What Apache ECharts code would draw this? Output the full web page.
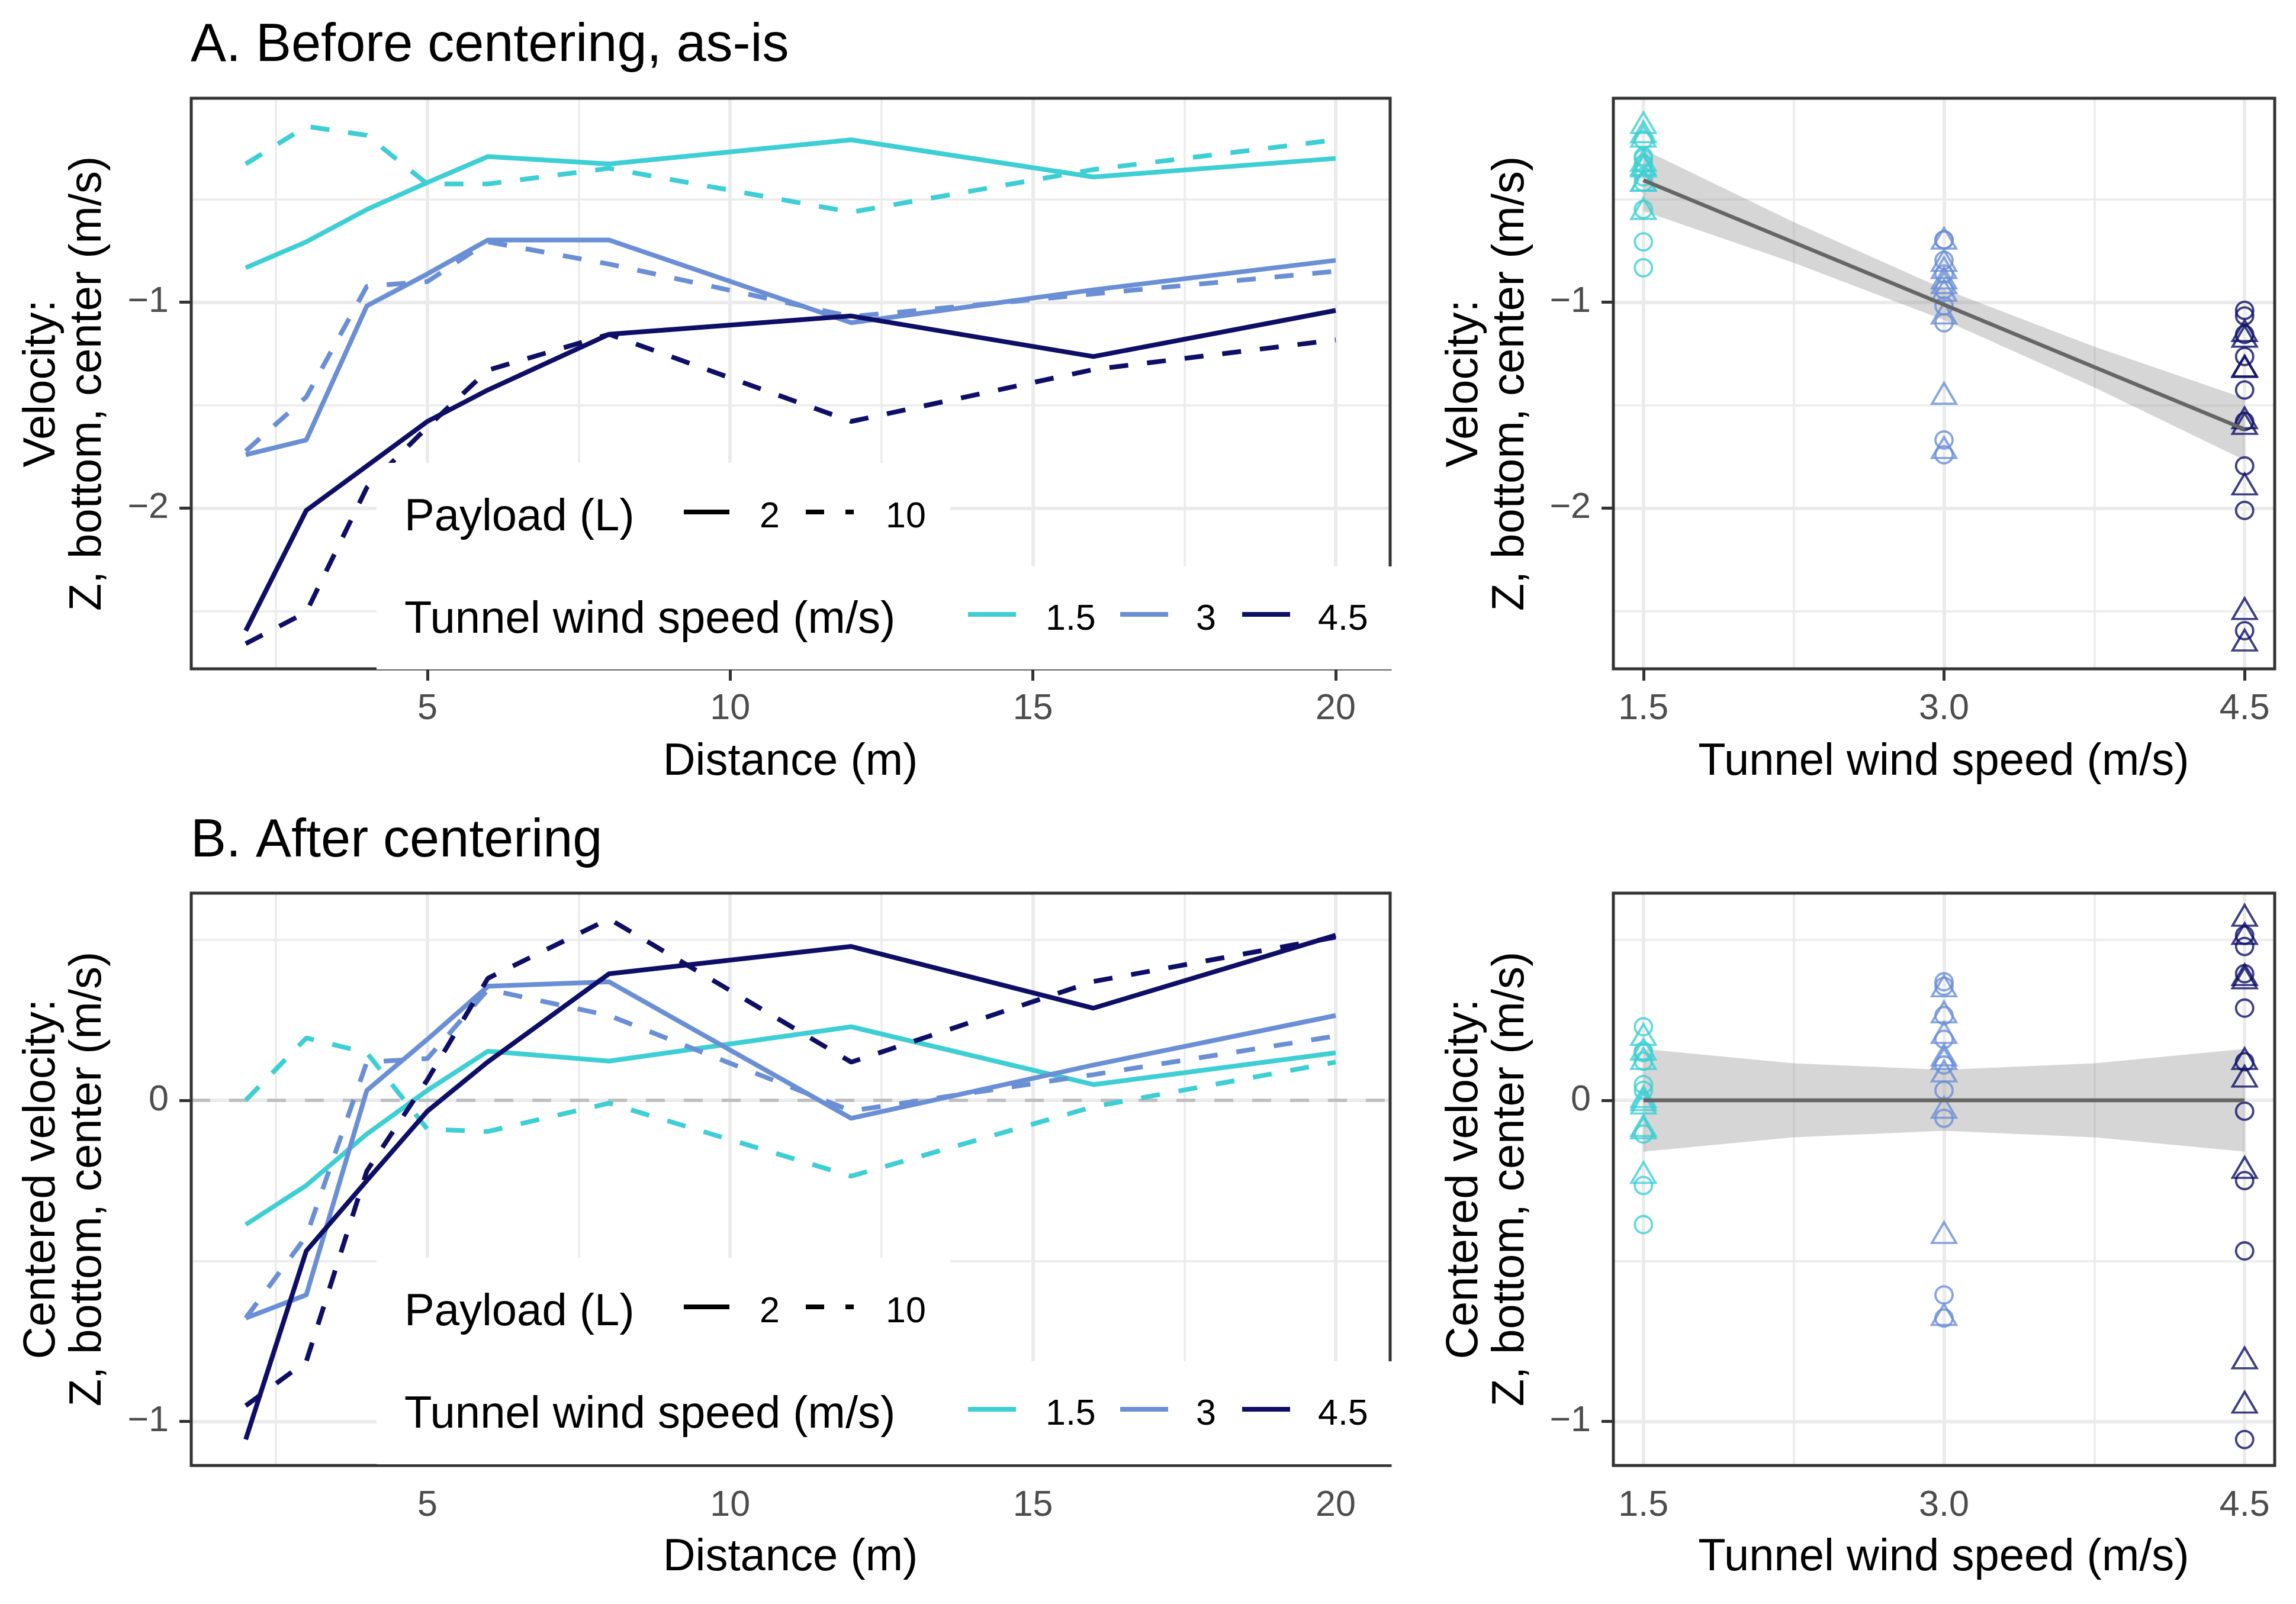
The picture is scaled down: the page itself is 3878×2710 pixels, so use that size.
<!DOCTYPE html>
<html>
<head>
<meta charset="utf-8">
<title>Velocity before and after centering</title>
<script src="https://cdn.jsdelivr.net/npm/echarts@6/dist/echarts.min.js"></script>
<style>
html, body { margin: 0; padding: 0; background: #fff; }
#chart { width: 3878px; height: 2710px; }
</style>
</head>
<body>
<div id="chart"></div>
<script>
// distances (m) along the tunnel
var distance = [2, 3, 4, 5, 6, 8, 12, 16, 20];
var windSpeeds = [1.5, 3, 4.5];
var windLabels = ['1.5', '3', '4.5'];
var payloadLabels = ['2', '10'];

// A. velocity as-is (m/s), per wind speed / payload
var rawW15P2 = [-0.833, -0.707, -0.550, -0.419, -0.293, -0.329, -0.212, -0.392, -0.302];
var rawW15P10 = [-0.329, -0.146, -0.190, -0.426, -0.426, -0.350, -0.563, -0.356, -0.212];
var rawW3P2 = [-1.741, -1.669, -1.018, -0.863, -0.698, -0.698, -1.100, -0.940, -0.797];
var rawW3P10 = [-1.723, -1.460, -0.923, -0.900, -0.707, -0.815, -1.070, -0.960, -0.850];
var rawW45P2 = [-2.595, -2.011, -1.795, -1.579, -1.426, -1.156, -1.067, -1.264, -1.040];
var rawW45P10 = [-2.658, -2.505, -1.900, -1.606, -1.330, -1.156, -1.579, -1.327, -1.183];

// B. centered velocity (m/s)
var cenW15P2 = [-0.387, -0.265, -0.105, 0.031, 0.153, 0.122, 0.229, 0.049, 0.148];
var cenW15P10 = [0.000, 0.194, 0.148, -0.090, -0.097, -0.009, -0.236, -0.020, 0.119];
var cenW3P2 = [-0.678, -0.606, 0.031, 0.190, 0.355, 0.369, -0.056, 0.110, 0.264];
var cenW3P10 = [-0.678, -0.423, 0.119, 0.130, 0.345, 0.264, -0.033, 0.080, 0.200];
var cenW45P2 = [-1.056, -0.469, -0.250, -0.034, 0.120, 0.394, 0.479, 0.287, 0.514];
var cenW45P10 = [-0.951, -0.813, -0.220, 0.064, 0.380, 0.565, 0.119, 0.370, 0.508];

// linear fit and its band on the right panels
var fitX = [1.5, 2.25, 3, 3.75, 4.5];
var fitRaw = [-0.408, -0.710, -1.012, -1.315, -1.617];
var fitRawLo = [-0.558, -0.809, -1.087, -1.414, -1.767];
var fitRawHi = [-0.258, -0.611, -0.937, -1.216, -1.467];
var fitCen = [0, 0, 0, 0, 0];
var fitCenLo = [-0.160, -0.115, -0.095, -0.115, -0.160];
var fitCenHi = [0.160, 0.115, 0.095, 0.115, 0.160];

// ticks and grid lines
var distTicks = [5, 10, 15, 20];
var distMinor = [2.5, 7.5, 12.5, 17.5];
var windTicks = [1.5, 3, 4.5];
var windMinor = [2.25, 3.75];
var rawTicks = [-2, -1];
var rawMinor = [-2.5, -1.5, -0.5];
var cenTicks = [-1, 0];
var cenMinor = [-0.5, 0.5];

var FONT = '"Liberation Sans", Arial, sans-serif';
var windColor = ['#3DCFD3', '#6B8FD5', '#0E0E66'];
var DASH = [32, 32];

var rawGroups = [[rawW15P2, rawW15P10], [rawW3P2, rawW3P10], [rawW45P2, rawW45P10]];
var cenGroups = [[cenW15P2, cenW15P10], [cenW3P2, cenW3P10], [cenW45P2, cenW45P10]];

// plot boxes (px)
var boxes = [
  { left: 323, top: 166, width: 2025, height: 964 },
  { left: 2725, top: 166, width: 1117, height: 964 },
  { left: 323, top: 1509, width: 2025, height: 967 },
  { left: 2725, top: 1509, width: 1117, height: 967 }
];

function minus(v) { return String(v).replace('-', '\u2212'); }

function axisBase(gi, min, max, ticks, fmt) {
  return {
    type: 'value', gridIndex: gi, min: min, max: max, scale: true,
    axisLine: { show: false },
    axisTick: { show: true, customValues: ticks, length: 20, lineStyle: { color: '#333333', width: 5 } },
    axisLabel: { show: true, customValues: ticks, formatter: fmt, color: '#4D4D4D', fontSize: 61, fontFamily: FONT, margin: 38 },
    splitLine: { show: false }, minorTick: { show: false }, minorSplitLine: { show: false }
  };
}

function gridLines(xMaj, xMin, yMaj, yMin, zeroDash) {
  var d = [];
  xMin.forEach(function (v) { d.push({ xAxis: v, lineStyle: { width: 3.5 } }); });
  yMin.forEach(function (v) { d.push({ yAxis: v, lineStyle: { width: 3.5 } }); });
  xMaj.forEach(function (v) { d.push({ xAxis: v, lineStyle: { width: 6 } }); });
  yMaj.forEach(function (v) { d.push({ yAxis: v, lineStyle: { width: 6 } }); });
  if (zeroDash) d.push({ yAxis: 0, lineStyle: { width: 5.5, color: '#BEBEBE', type: [32, 32] } });
  return {
    silent: true, z: 1, animation: false, symbol: ['none', 'none'],
    label: { show: false }, emphasis: { disabled: true },
    lineStyle: { color: '#EBEBEB', type: 'solid' },
    data: d
  };
}

function lineSeries(gi, groups, marks) {
  var out = [];
  groups.forEach(function (pair, wi) {
    pair.forEach(function (vals, pi) {
      out.push({
        type: 'line', xAxisIndex: gi, yAxisIndex: gi, z: 3, silent: true,
        symbol: 'none', showSymbol: false, emphasis: { disabled: true },
        data: distance.map(function (d, k) { return [d, vals[k]]; }),
        lineStyle: { color: windColor[wi], width: 8, type: pi === 0 ? 'solid' : DASH, cap: 'butt' }
      });
    });
  });
  out[0].markLine = marks;
  return out;
}

function scatterSeries(gi, groups, marks) {
  var out = [];
  groups.forEach(function (pair, wi) {
    pair.forEach(function (vals, pi) {
      out.push({
        type: 'scatter', xAxisIndex: gi, yAxisIndex: gi, z: 4, silent: true,
        emphasis: { disabled: true },
        symbol: pi === 0 ? 'circle' : 'triangle',
        symbolSize: pi === 0 ? 29 : [41, 35],
        symbolOffset: pi === 0 ? [0, 0] : [0, -6],
        itemStyle: { color: 'transparent', borderColor: windColor[wi], borderWidth: 3.8 },
        data: vals.map(function (v) { return [windSpeeds[wi], v]; })
      });
    });
  });
  out[0].markLine = marks;
  return out;
}

function bandSeries(gi, lo, hi) {
  return {
    type: 'custom', xAxisIndex: gi, yAxisIndex: gi, z: 2, silent: true,
    data: [[fitX[0], lo[0]]],
    renderItem: function (params, api) {
      var pts = [];
      for (var i = 0; i < fitX.length; i++) pts.push(api.coord([fitX[i], hi[i]]));
      for (var j = fitX.length - 1; j >= 0; j--) pts.push(api.coord([fitX[j], lo[j]]));
      return { type: 'polygon', shape: { points: pts }, style: { fill: 'rgba(153,153,153,0.4)' } };
    }
  };
}

function fitSeries(gi, fit) {
  return {
    type: 'line', xAxisIndex: gi, yAxisIndex: gi, z: 5, silent: true,
    symbol: 'none', showSymbol: false, emphasis: { disabled: true },
    data: fitX.map(function (x, i) { return [x, fit[i]]; }),
    lineStyle: { color: '#666666', width: 6.5 }
  };
}

// text helpers for titles, axis names and the inside legends
function txt(s, x, y, size, opt) {
  opt = opt || {};
  return {
    type: 'text', x: x, y: y, z: 21, silent: true, rotation: opt.rot || 0,
    style: {
      text: s, fill: opt.color || '#000', font: size + 'px ' + FONT,
      textAlign: opt.align || 'left', textVerticalAlign: 'middle', verticalAlign: 'middle'
    }
  };
}
function key(x1, x2, y, color, dash) {
  return {
    type: 'line', z: 21, silent: true,
    shape: { x1: x1, y1: y, x2: x2, y2: y },
    style: { stroke: color, lineWidth: 8, lineDash: dash || null, lineCap: 'butt' }
  };
}
function legend(top) {
  var g = [];
  g.push({ type: 'rect', z: 20, silent: true, shape: { x: 636, y: top + 616, width: 969, height: 175 }, style: { fill: '#fff' } });
  g.push({ type: 'rect', z: 20, silent: true, shape: { x: 636, y: top + 791, width: 1736, height: 174 }, style: { fill: '#fff' } });
  g.push(txt('Payload (L)', 683, top + 709, 76));
  g.push(key(1155, 1232, top + 699, '#000'));
  g.push(txt(payloadLabels[0], 1283, top + 708, 61));
  g.push(key(1361, 1442, top + 699, '#000', [31, 36]));
  g.push(txt(payloadLabels[1], 1496, top + 708, 61));
  g.push(txt('Tunnel wind speed (m/s)', 683, top + 882, 76));
  var kx = [1635, 1892, 2098], lx = [1766, 2020, 2226];
  for (var i = 0; i < 3; i++) {
    g.push(key(kx[i], kx[i] + 81, top + 872, windColor[i]));
    g.push(txt(windLabels[i], lx[i], top + 881, 61));
  }
  return g;
}

var graphics = [];
boxes.forEach(function (b) {
  graphics.push({ type: 'rect', z: 10, silent: true, shape: { x: b.left, y: b.top, width: b.width, height: b.height },
    style: { fill: 'none', stroke: '#333333', lineWidth: 5 } });
});
graphics = graphics.concat(legend(166), legend(1509));
graphics.push(txt('A. Before centering, as-is', 322, 78, 90));
graphics.push(txt('B. After centering', 322, 1422, 90));
graphics.push(txt('Distance (m)', 1335, 1288, 76, { align: 'center' }));
graphics.push(txt('Tunnel wind speed (m/s)', 3283, 1288, 76, { align: 'center' }));
graphics.push(txt('Distance (m)', 1335, 2632, 76, { align: 'center' }));
graphics.push(txt('Tunnel wind speed (m/s)', 3283, 2632, 76, { align: 'center' }));
var R = Math.PI / 2;
graphics.push(txt('Velocity:', 71, 648, 76, { align: 'center', rot: R }));
graphics.push(txt('Z, bottom, center (m/s)', 149, 648, 76, { align: 'center', rot: R }));
graphics.push(txt('Velocity:', 2474, 648, 76, { align: 'center', rot: R }));
graphics.push(txt('Z, bottom, center (m/s)', 2552, 648, 76, { align: 'center', rot: R }));
graphics.push(txt('Centered velocity:', 71, 1992, 76, { align: 'center', rot: R }));
graphics.push(txt('Z, bottom, center (m/s)', 149, 1992, 76, { align: 'center', rot: R }));
graphics.push(txt('Centered velocity:', 2474, 1992, 76, { align: 'center', rot: R }));
graphics.push(txt('Z, bottom, center (m/s)', 2552, 1992, 76, { align: 'center', rot: R }));

var fmt1 = function (v) { return Number(v).toFixed(1); };

var series = []
  .concat(lineSeries(0, rawGroups, gridLines(distTicks, distMinor, rawTicks, rawMinor, false)))
  .concat([bandSeries(1, fitRawLo, fitRawHi)])
  .concat(scatterSeries(1, rawGroups, gridLines(windTicks, windMinor, rawTicks, rawMinor, false)))
  .concat([fitSeries(1, fitRaw)])
  .concat(lineSeries(2, cenGroups, gridLines(distTicks, distMinor, cenTicks, cenMinor, true)))
  .concat([bandSeries(3, fitCenLo, fitCenHi)])
  .concat(scatterSeries(3, cenGroups, gridLines(windTicks, windMinor, cenTicks, cenMinor, false)))
  .concat([fitSeries(3, fitCen)]);

var chart = echarts.init(document.getElementById('chart'), null, { renderer: 'canvas' });
chart.setOption({
  animation: false,
  backgroundColor: '#ffffff',
  textStyle: { fontFamily: FONT },
  grid: boxes.map(function (b) { return { left: b.left, top: b.top, width: b.width, height: b.height, show: false }; }),
  xAxis: [
    axisBase(0, 1.1, 20.9, distTicks, minus),
    axisBase(1, 1.35, 4.65, windTicks, fmt1),
    axisBase(2, 1.1, 20.9, distTicks, minus),
    axisBase(3, 1.35, 4.65, windTicks, fmt1)
  ],
  yAxis: [
    axisBase(0, -2.78, -0.01, rawTicks, minus),
    axisBase(1, -2.78, -0.01, rawTicks, minus),
    axisBase(2, -1.137, 0.645, cenTicks, minus),
    axisBase(3, -1.137, 0.645, cenTicks, minus)
  ],
  graphic: { elements: graphics },
  series: series
});
</script>
</body>
</html>
